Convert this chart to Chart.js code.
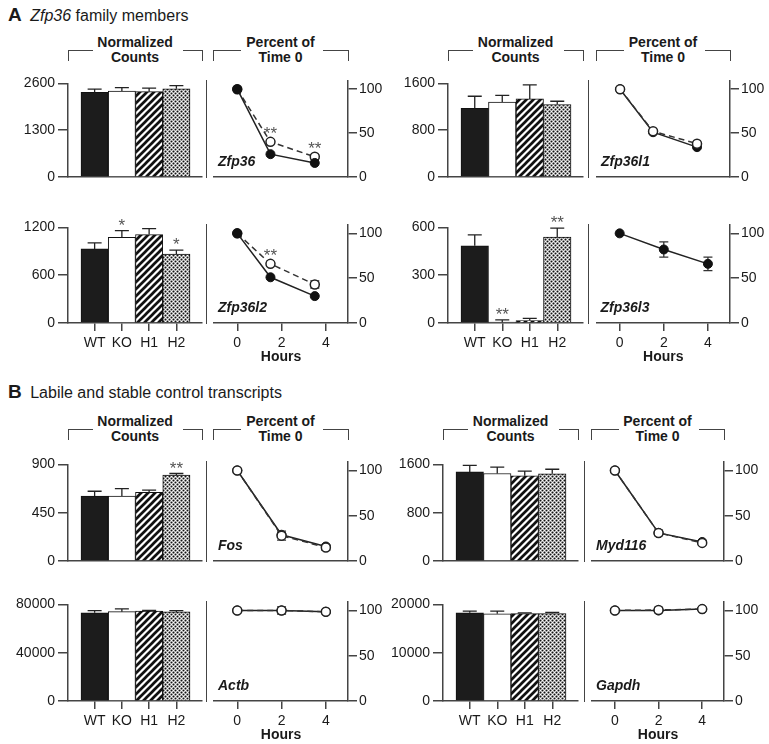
<!DOCTYPE html>
<html>
<head>
<meta charset="utf-8">
<script src="https://cdn.jsdelivr.net/npm/chart.js@4.4.1/dist/chart.umd.min.js"></script>
<style>
    body { margin: 0; background: #fff; }
    #fig { position: relative; width: 769px; height: 744px; overflow: hidden; font-family: "Liberation Sans", Arial, sans-serif; color: #1a1a1a; }
    #fig canvas { position: absolute; }
    .sec { position: absolute; left: 8px; font-size: 16px; line-height: 20px; white-space: nowrap; }
    .sec b { font-size: 19px; margin-right: 4px; }
    .hdr { position: absolute; width: 120px; font-size: 14px; font-weight: bold; line-height: 15px; text-align: center; }
    .brk { position: absolute; height: 10px; border-top: 1.5px solid #444; }
    .brk.l { border-left: 1.5px solid #444; }
    .brk.r { border-right: 1.5px solid #444; }
    .sep { position: absolute; width: 0; border-left: 1.5px solid #444; }
</style>
</head>
<body>
<div id="fig">
    <div class="sec" style="top:5px"><b>A</b> <i>Zfp36</i> family members</div>
    <div class="sec" style="top:382px"><b>B</b> Labile and stable control transcripts</div>
</div>
<script>
// Groups and axis ticks
const GROUPS = ['WT', 'KO', 'H1', 'H2'];
const HOUR_TICKS = [0, 2, 4];
const PCT_TICKS = [0, 50, 100];
const hoursFamily = [0, 1.5, 3.5];
const hoursControl = [0, 2, 4];

// Zfp36
const zfp36Counts = [2350, 2390, 2370, 2450];
const zfp36CountsErr = [90, 90, 100, 90];
const zfp36Ticks = [0, 1300, 2600];
const zfp36WT = [100, 26, 16];
const zfp36KO = [100, 40, 23];
const zfp36KOErr = [0, 2, 2];
const zfp36Stars = ['', '**', '**'];

// Zfp36l1
const zfp36l1Counts = [1175, 1280, 1335, 1240];
const zfp36l1CountsErr = [205, 115, 240, 55];
const zfp36l1Ticks = [0, 800, 1600];
const zfp36l1WT = [100, 51, 34];
const zfp36l1KO = [100, 52, 38];

// Zfp36l2
const zfp36l2Counts = [930, 1075, 1110, 865];
const zfp36l2CountsErr = [75, 85, 75, 50];
const zfp36l2Ticks = [0, 600, 1200];
const zfp36l2BarStars = ['', '*', '', '*'];
const zfp36l2WT = [100, 51, 30];
const zfp36l2KO = [100, 66, 43];
const zfp36l2KOErr = [0, 2, 4];
const zfp36l2Stars = ['', '**', ''];

// Zfp36l3
const zfp36l3Counts = [485, 5, 15, 540];
const zfp36l3CountsErr = [68, 15, 14, 55];
const zfp36l3Ticks = [0, 300, 600];
const zfp36l3BarStars = ['', '**', '', '**'];
const zfp36l3WT = [100, 82, 66];
const zfp36l3WTErr = [0, 8.5, 7.5];

// Fos
const fosCounts = [605, 605, 640, 800];
const fosCountsErr = [45, 70, 20, 15];
const fosTicks = [0, 450, 900];
const fosBarStars = ['', '', '', '**'];
const fosWT = [100, 29, 16];
const fosKO = [100, 28, 15];
const fosKOErr = [0, 5, 3];

// Myd116
const myd116Counts = [1475, 1450, 1410, 1445];
const myd116CountsErr = [110, 105, 80, 75];
const myd116Ticks = [0, 800, 1600];
const myd116WT = [100, 31, 21];
const myd116KO = [100, 31, 20];
const myd116KOErr = [0, 3, 2];

// Actb
const actbCounts = [73000, 74000, 74500, 73800];
const actbCountsErr = [1800, 2300, 600, 1000];
const actbTicks = [0, 40000, 80000];
const actbWT = [100, 100, 98.5];
const actbKO = [100, 100, 98.5];
const actbKOErr = [0, 4, 1];

// Gapdh
const gapdhCounts = [18250, 18050, 18100, 18100];
const gapdhCountsErr = [350, 550, 150, 250];
const gapdhTicks = [0, 10000, 20000];
const gapdhWT = [100, 100, 101.5];
const gapdhKO = [100, 100.5, 101.5];
const gapdhKOErr = [0, 3, 1];

// Page geometry (pixels)
const COLS = {
    L:  { axisX: 68,  barRight: 202, sepX: 207, lineLeft: 212, lineRight: 348 },
    RA: { axisX: 448, barRight: 583, sepX: 589, lineLeft: 595, lineRight: 730 },
    RB: { axisX: 443, barRight: 578, sepX: 585, lineLeft: 590, lineRight: 724 }
};
const ROWS = {
    A1: { top: 82,  base: 177 },
    A2: { top: 226, base: 323 },
    B1: { top: 463, base: 561 },
    B2: { top: 603, base: 701 }
};
const HEADERS = [
    { col: 'L', y: 50 }, { col: 'RA', y: 50 },
    { col: 'L', y: 429 }, { col: 'RB', y: 429 }
];

const panels = [
    { gene: 'Zfp36', col: 'L', row: 'A1', counts: zfp36Counts, countsErr: zfp36CountsErr, ticks: zfp36Ticks,
      hours: hoursFamily, wt: zfp36WT, ko: zfp36KO, koErr: zfp36KOErr, lineStars: zfp36Stars, openOnTop: false },
    { gene: 'Zfp36l1', col: 'RA', row: 'A1', counts: zfp36l1Counts, countsErr: zfp36l1CountsErr, ticks: zfp36l1Ticks,
      hours: hoursFamily, wt: zfp36l1WT, ko: zfp36l1KO, openOnTop: true },
    { gene: 'Zfp36l2', col: 'L', row: 'A2', counts: zfp36l2Counts, countsErr: zfp36l2CountsErr, ticks: zfp36l2Ticks, barStars: zfp36l2BarStars,
      hours: hoursFamily, wt: zfp36l2WT, ko: zfp36l2KO, koErr: zfp36l2KOErr, lineStars: zfp36l2Stars, openOnTop: false },
    { gene: 'Zfp36l3', col: 'RA', row: 'A2', counts: zfp36l3Counts, countsErr: zfp36l3CountsErr, ticks: zfp36l3Ticks, barStars: zfp36l3BarStars,
      hours: hoursControl, wt: zfp36l3WT, wtErr: zfp36l3WTErr, openOnTop: false },
    { gene: 'Fos', col: 'L', row: 'B1', counts: fosCounts, countsErr: fosCountsErr, ticks: fosTicks, barStars: fosBarStars,
      hours: hoursControl, wt: fosWT, ko: fosKO, koErr: fosKOErr, openOnTop: true },
    { gene: 'Myd116', col: 'RB', row: 'B1', counts: myd116Counts, countsErr: myd116CountsErr, ticks: myd116Ticks,
      hours: hoursControl, wt: myd116WT, ko: myd116KO, koErr: myd116KOErr, openOnTop: true },
    { gene: 'Actb', col: 'L', row: 'B2', counts: actbCounts, countsErr: actbCountsErr, ticks: actbTicks,
      hours: hoursControl, wt: actbWT, ko: actbKO, koErr: actbKOErr, openOnTop: true },
    { gene: 'Gapdh', col: 'RB', row: 'B2', counts: gapdhCounts, countsErr: gapdhCountsErr, ticks: gapdhTicks,
      hours: hoursControl, wt: gapdhWT, ko: gapdhKO, koErr: gapdhKOErr, openOnTop: true }
];

const AXIS = '#444';
const INK = '#1a1a1a';
const FONT = 'Liberation Sans';
const tickFont = { family: FONT, size: 14 };

// Bar fills: hatch and stipple
function stripePattern() {
    const c = document.createElement('canvas');
    c.width = c.height = 7;
    const g = c.getContext('2d');
    g.fillStyle = '#fff';
    g.fillRect(0, 0, 7, 7);
    g.strokeStyle = '#111';
    g.lineWidth = 2.7;
    g.beginPath();
    g.moveTo(-2, 2); g.lineTo(2, -2);
    g.moveTo(-2, 9); g.lineTo(9, -2);
    g.moveTo(5, 9); g.lineTo(9, 5);
    g.stroke();
    return g.createPattern(c, 'repeat');
}

function dotPattern() {
    const c = document.createElement('canvas');
    c.width = c.height = 4;
    const g = c.getContext('2d');
    g.fillStyle = '#fff';
    g.fillRect(0, 0, 4, 4);
    g.fillStyle = '#111';
    const spots = [[1.5, 1.5], [3.5, 3.5], [-0.5, 3.5], [3.5, -0.5], [-0.5, -0.5]];
    spots.forEach(([x, y]) => {
        g.beginPath();
        g.arc(x, y, 1.05, 0, Math.PI * 2);
        g.fill();
    });
    return g.createPattern(c, 'repeat');
}

// Error bars: bars get an upward whisker, points get both directions
function drawWhiskers(chart, index) {
    const ds = chart.data.datasets[index];
    if (!ds.err) return;
    const meta = chart.getDatasetMeta(index);
    const y = chart.scales.y;
    const ctx = chart.ctx;
    const isBar = meta.type === 'bar';
    const cap = isBar ? 7 : 4.5;
    ctx.save();
    ctx.strokeStyle = isBar ? '#222' : '#333';
    ctx.lineWidth = 1.3;
    meta.data.forEach((el, j) => {
        const e = ds.err[j];
        if (!e) return;
        const v = ds.data[j].y;
        const hi = y.getPixelForValue(v + e);
        const lo = isBar ? y.getPixelForValue(v) : y.getPixelForValue(v - e);
        ctx.beginPath();
        ctx.moveTo(el.x, lo); ctx.lineTo(el.x, hi);
        ctx.moveTo(el.x - cap, hi); ctx.lineTo(el.x + cap, hi);
        if (!isBar) { ctx.moveTo(el.x - cap, lo); ctx.lineTo(el.x + cap, lo); }
        ctx.stroke();
    });
    ctx.restore();
}

const errorBars = {
    id: 'errorBars',
    beforeDatasetDraw(chart, args) {
        if (args.meta.type === 'line') drawWhiskers(chart, args.index);
    },
    afterDatasetDraw(chart, args) {
        if (args.meta.type === 'bar') drawWhiskers(chart, args.index);
    }
};

// Significance asterisks and gene name
const annotations = {
    id: 'annotations',
    afterDraw(chart) {
        const ctx = chart.ctx;
        const y = chart.scales.y;
        ctx.save();
        chart.data.datasets.forEach((ds, i) => {
            if (!ds.stars) return;
            const meta = chart.getDatasetMeta(i);
            ctx.font = '17px "' + FONT + '"';
            ctx.fillStyle = '#555';
            ctx.textAlign = 'center';
            ctx.textBaseline = 'alphabetic';
            meta.data.forEach((el, j) => {
                if (!ds.stars[j]) return;
                let center;
                if (meta.type === 'bar') {
                    const e = ds.err ? ds.err[j] : 0;
                    center = y.getPixelForValue(ds.data[j].y + e) - 10;
                } else {
                    center = el.y - 13;
                }
                ctx.fillText(ds.stars[j], el.x, center + 10);
            });
        });
        const gene = chart.options.plugins.annotations.gene;
        if (gene) {
            ctx.font = 'italic bold 14px "' + FONT + '"';
            ctx.fillStyle = INK;
            ctx.textAlign = 'left';
            ctx.textBaseline = 'middle';
            ctx.fillText(gene, chart.chartArea.left + 4, chart.chartArea.bottom - 15);
        }
        ctx.restore();
    }
};

const fig = document.getElementById('fig');
const stripes = stripePattern();
const dots = dotPattern();

function addCanvas(left, top, width, height) {
    const c = document.createElement('canvas');
    c.width = width;
    c.height = height;
    c.style.left = left + 'px';
    c.style.top = top + 'px';
    fig.appendChild(c);
    return c;
}

function addDiv(cls, style, html) {
    const d = document.createElement('div');
    d.className = cls;
    Object.assign(d.style, style);
    if (html) d.innerHTML = html;
    fig.appendChild(d);
}

function fixedTicks(values) {
    return (scale) => { scale.ticks = values.map(v => ({ value: v })); };
}

function createBarChart(p) {
    const col = COLS[p.col];
    const row = ROWS[p.row];
    const bottomRow = p.row.endsWith('2');
    const padL = 62;
    const width = padL + (col.barRight - col.axisX) + 4;
    const height = 10 + (row.base - row.top) + 44;
    const canvas = addCanvas(col.axisX - padL, row.top - 10, width, height);
    const unit = (col.barRight - col.axisX - 25) / 4;

    new Chart(canvas, {
        type: 'bar',
        data: {
            datasets: [{
                data: GROUPS.map((g, i) => ({ x: i, y: p.counts[i] })),
                err: p.countsErr,
                stars: p.barStars,
                backgroundColor: ['#1c1c1c', '#ffffff', stripes, dots],
                borderColor: '#111',
                borderWidth: 1,
                barPercentage: 1,
                categoryPercentage: 1
            }]
        },
        options: {
            responsive: false,
            animation: false,
            devicePixelRatio: 1,
            layout: { padding: { top: 10, right: 4, left: 0, bottom: 0 } },
            plugins: { legend: { display: false }, tooltip: { enabled: false }, annotations: {} },
            scales: {
                x: {
                    type: 'linear',
                    offset: false,
                    min: -0.5 - 13 / unit,
                    max: 3.5 + 12 / unit,
                    afterBuildTicks: fixedTicks([0, 1, 2, 3]),
                    afterFit: (s) => { s.height = 44; },
                    border: { color: AXIS, width: 1.5 },
                    grid: { display: bottomRow, offset: false, drawOnChartArea: false, tickLength: 8, color: AXIS, lineWidth: 1.5 },
                    ticks: { display: bottomRow, callback: (v) => GROUPS[v], font: tickFont, color: INK, padding: 4, maxRotation: 0, autoSkip: false }
                },
                y: {
                    min: 0,
                    max: p.ticks[p.ticks.length - 1],
                    afterBuildTicks: fixedTicks(p.ticks),
                    afterFit: (s) => { s.width = padL; },
                    border: { color: AXIS, width: 1.5 },
                    grid: { drawOnChartArea: false, tickLength: 10, color: AXIS, lineWidth: 1.5 },
                    ticks: { callback: (v) => String(v), font: tickFont, color: INK, padding: 3 }
                }
            }
        },
        plugins: [errorBars, annotations]
    });
}

function createLineChart(p) {
    const col = COLS[p.col];
    const row = ROWS[p.row];
    const bottomRow = p.row.endsWith('2');
    const padR = 42;
    const top = row.top - 2;
    const width = 4 + (col.lineRight - col.lineLeft) + padR;
    const height = 10 + (row.base - top) + 44;
    const canvas = addCanvas(col.lineLeft - 4, top - 10, width, height);

    const wtSet = {
        data: p.hours.map((h, i) => ({ x: h, y: p.wt[i] })),
        err: p.wtErr,
        borderColor: '#222',
        borderWidth: 1.5,
        pointRadius: 4.5,
        pointBackgroundColor: '#111',
        pointBorderColor: '#111',
        pointBorderWidth: 1
    };
    const sets = [wtSet];
    if (p.ko) {
        const koSet = {
            data: p.hours.map((h, i) => ({ x: h, y: p.ko[i] })),
            err: p.koErr,
            stars: p.lineStars,
            borderColor: '#333',
            borderWidth: 1.5,
            borderDash: [6, 4],
            pointRadius: 4.5,
            pointBackgroundColor: '#fff',
            pointBorderColor: '#222',
            pointBorderWidth: 1.5
        };
        // first dataset is painted last (on top)
        if (p.openOnTop) sets.unshift(koSet); else sets.push(koSet);
    }

    new Chart(canvas, {
        type: 'line',
        data: { datasets: sets },
        options: {
            responsive: false,
            animation: false,
            devicePixelRatio: 1,
            layout: { padding: { top: 10, right: 0, left: 4, bottom: 0 } },
            plugins: { legend: { display: false }, tooltip: { enabled: false }, annotations: { gene: p.gene } },
            scales: {
                x: {
                    type: 'linear',
                    min: -1.05,
                    max: 5.0,
                    afterBuildTicks: fixedTicks(HOUR_TICKS),
                    afterFit: (s) => { s.height = 44; },
                    border: { color: AXIS, width: 1.5 },
                    grid: { display: bottomRow, drawOnChartArea: false, tickLength: 8, color: AXIS, lineWidth: 1.5 },
                    ticks: { display: bottomRow, font: tickFont, color: INK, padding: 4, maxRotation: 0 },
                    title: { display: bottomRow, text: 'Hours', color: INK, font: { family: FONT, size: 14, weight: 'bold' }, padding: { top: 0, bottom: 1 } }
                },
                y: {
                    position: 'right',
                    min: 0,
                    max: 110,
                    afterBuildTicks: fixedTicks(PCT_TICKS),
                    afterFit: (s) => { s.width = padR; },
                    border: { color: AXIS, width: 1.5 },
                    grid: { drawOnChartArea: false, tickLength: 9, color: AXIS, lineWidth: 1.5 },
                    ticks: { font: tickFont, color: INK, padding: 2 }
                }
            }
        },
        plugins: [errorBars, annotations]
    });

    addDiv('sep', { left: (col.sepX - 0.75) + 'px', top: top + 'px', height: (row.base - top + 1) + 'px' });
}

// Bracketed column headers
HEADERS.forEach((h) => {
    const col = COLS[h.col];
    const groups = [
        { x0: col.axisX, x1: col.barRight, l: 24, r: 19, text: 'Normalized<br>Counts' },
        { x0: col.lineLeft + 1, x1: col.lineRight, l: 27, r: 25, text: 'Percent of<br>Time 0' }
    ];
    groups.forEach((g) => {
        addDiv('brk l', { left: g.x0 + 'px', top: h.y + 'px', width: g.l + 'px' });
        addDiv('brk r', { left: (g.x1 - g.r) + 'px', top: h.y + 'px', width: g.r + 'px' });
        addDiv('hdr', { left: ((g.x0 + g.x1) / 2 - 60) + 'px', top: (h.y - 15) + 'px' }, g.text);
    });
});

panels.forEach((p) => {
    createBarChart(p);
    createLineChart(p);
});
</script>
</body>
</html>
